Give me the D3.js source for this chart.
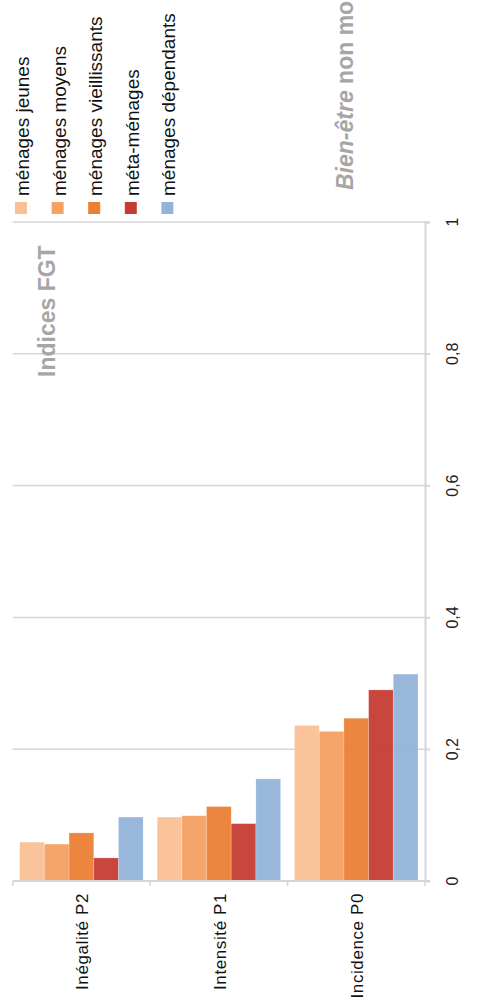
<!DOCTYPE html>
<html>
<head>
<meta charset="utf-8">
<script src="https://cdn.jsdelivr.net/npm/d3@7"></script>
<style>
  body { margin: 0; background: #fff; }
  svg { display: block; font-family: "Liberation Sans", Arial, sans-serif; }
</style>
</head>
<body>
<div id="wrapper"></div>
<script>
// data
const categories = ["Inégalité P2", "Intensité P1", "Incidence P0"]
const seriesNames = ["ménages jeunes", "ménages moyens", "ménages vieillissants", "méta-ménages", "ménages dépendants"]
const seriesColors = ["#fac095", "#f6a062", "#eb8035", "#c63c32", "#94b3d8"]
const jeunes = [0.059, 0.097, 0.236]
const moyens = [0.056, 0.099, 0.227]
const vieillissants = [0.073, 0.113, 0.247]
const metaMenages = [0.035, 0.087, 0.290]
const dependants = [0.097, 0.155, 0.314]
const seriesValues = [jeunes, moyens, vieillissants, metaMenages, dependants]
const yTicks = [0, 0.2, 0.4, 0.6, 0.8, 1]
const tickLabel = (d) => String(d).replace(".", ",")

const width = 478
const height = 1000

// chart is drawn turned a quarter (text reads bottom to top)
const wrapper = d3.select("#wrapper")
  .append("svg")
  .attr("width", width)
  .attr("height", height)

const xScale = d3.scaleBand()
  .domain(categories)
  .range([12.7, 425])

const innerScale = d3.scaleBand()
  .domain(seriesNames)
  .range([7, xScale.bandwidth() - 7])

const yScale = d3.scaleLinear()
  .domain([0, 1])
  .range([881, 222])

const grey = "#d6d6d6"

// gridlines
wrapper.append("g")
  .selectAll("line")
  .data(yTicks.slice(1))
  .join("line")
  .attr("x1", 12.7)
  .attr("x2", 430)
  .attr("y1", (d) => yScale(d))
  .attr("y2", (d) => yScale(d))
  .attr("stroke", grey)
  .attr("stroke-width", 1.5)

// bars
const groups = wrapper.append("g")
  .selectAll("g")
  .data(categories)
  .join("g")
  .attr("transform", (d) => `translate(${xScale(d)},0)`)

groups.selectAll("rect")
  .data((c, ci) => seriesNames.map((s, si) => ({ s, si, v: seriesValues[si][ci] })))
  .join("rect")
  .attr("x", (d) => innerScale(d.s))
  .attr("width", innerScale.bandwidth())
  .attr("y", (d) => yScale(d.v))
  .attr("height", (d) => yScale(0) - yScale(d.v))
  .attr("fill", (d) => seriesColors[d.si])
  .attr("fill-opacity", 0.95)
  .attr("stroke", "#fff")
  .attr("stroke-opacity", 0.25)
  .attr("stroke-width", 0.8)

// value axis (right side)
const yAxis = wrapper.append("g")
  .attr("transform", "translate(425,0)")
  .call(d3.axisRight(yScale).tickValues(yTicks).tickSize(5).tickFormat(() => ""))
yAxis.select(".domain").attr("stroke", grey).attr("stroke-width", 2)
yAxis.selectAll(".tick line").attr("stroke", grey).attr("stroke-width", 1.5)

wrapper.append("g")
  .selectAll("text")
  .data(yTicks)
  .join("text")
  .attr("transform", (d) => `translate(458,${yScale(d)}) rotate(-90)`)
  .attr("text-anchor", "middle")
  .attr("font-size", 16)
  .attr("fill", "#222")
  .text(tickLabel)

// category axis (bottom)
const xAxis = wrapper.append("g")
  .attr("transform", `translate(0,${yScale(0)})`)
xAxis.append("line")
  .attr("x1", 12.7).attr("x2", 430)
  .attr("stroke", grey).attr("stroke-width", 2)
xAxis.selectAll(".sep")
  .data([12.7, ...categories.map((c) => xScale(c) + xScale.bandwidth())])
  .join("line")
  .attr("class", "sep")
  .attr("x1", (d) => d).attr("x2", (d) => d)
  .attr("y1", 0).attr("y2", 5)
  .attr("stroke", grey).attr("stroke-width", 1.5)

wrapper.append("g")
  .selectAll("text")
  .data(categories)
  .join("text")
  .attr("transform", (d) => `translate(${xScale(d) + xScale.bandwidth() / 2 + 7},893) rotate(-90)`)
  .attr("text-anchor", "end")
  .attr("font-size", 17)
  .attr("letter-spacing", 0.6)
  .attr("fill", "#111")
  .text((d) => d)

// legend
const legend = wrapper.append("g")
  .selectAll("g")
  .data(seriesNames)
  .join("g")
  .attr("transform", (d, i) => `translate(${21 + i * 36.6},0)`)

legend.append("rect")
  .attr("x", -6).attr("y", 202)
  .attr("width", 12).attr("height", 12)
  .attr("fill", (d, i) => seriesColors[i])

legend.append("text")
  .attr("transform", "translate(8,196) rotate(-90)")
  .attr("font-size", 19)
  .attr("fill", "#111")
  .text((d) => d)

// titles
const titleColor = "#a6a6a6"
wrapper.append("text")
  .attr("transform", "translate(55,377) rotate(-90)")
  .attr("font-size", 23)
  .attr("font-weight", "bold")
  .attr("fill", titleColor)
  .text("Indices FGT")

const mainTitle = wrapper.append("text")
  .attr("transform", "translate(353,190) rotate(-90)")
  .attr("font-size", 23)
  .attr("font-weight", "bold")
  .attr("fill", titleColor)
mainTitle.append("tspan").attr("font-style", "italic").text("Bien-être")
mainTitle.append("tspan").text(" non monétaire")
</script>
</body>
</html>
